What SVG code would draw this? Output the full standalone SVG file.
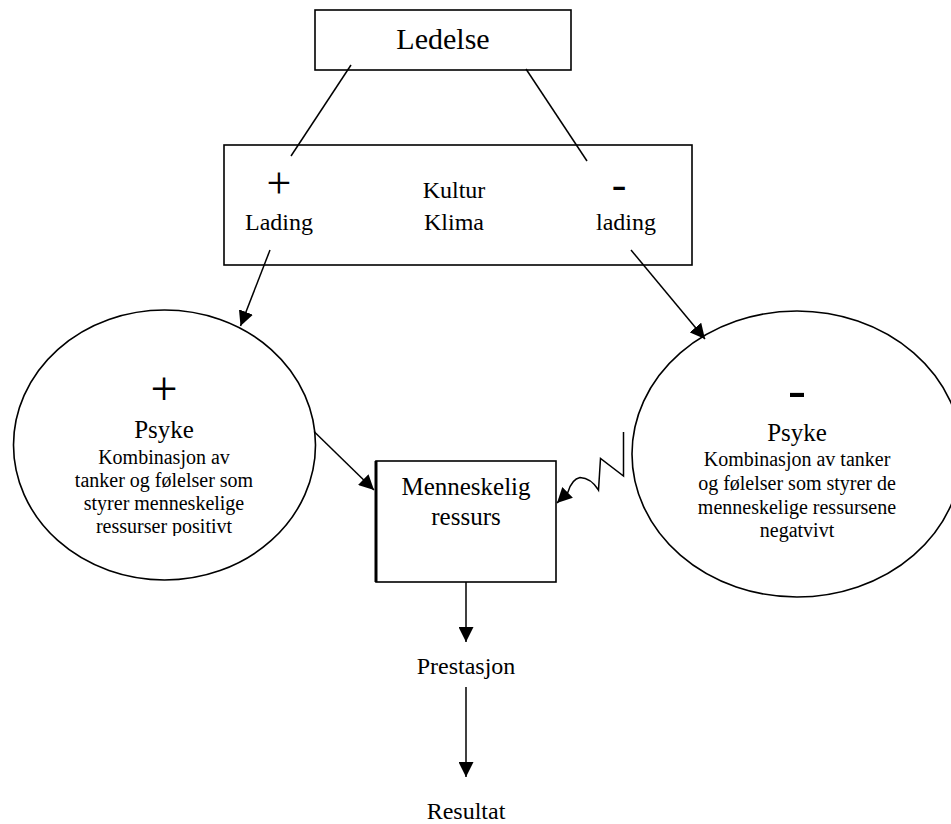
<svg xmlns="http://www.w3.org/2000/svg" width="951" height="824" viewBox="0 0 951 824">
  <style>
    text { font-family: "Liberation Serif", "Times New Roman", serif; fill: #000; text-anchor: middle; }
    .box { fill: #fff; stroke: #000; stroke-width: 1.6; }
    .oval { fill: #fff; stroke: #000; stroke-width: 1.6; }
    .link { fill: none; stroke: #000; stroke-width: 1.5; }
    .arrow { fill: none; stroke: #000; stroke-width: 1.5; marker-end: url(#head); }
    .t30 { font-size: 30px; }
    .t25 { font-size: 25px; }
    .t24 { font-size: 24px; }
    .t20 { font-size: 20px; }
  </style>
  <defs>
    <marker id="head" markerUnits="userSpaceOnUse" viewBox="0 0 15 15" markerWidth="15" markerHeight="15" refX="15" refY="7.5" orient="auto">
      <path d="M0,0 L15,7.5 L0,15 Z" fill="#000"/>
    </marker>
    <clipPath id="clipPos">
      <rect x="0" y="300" width="400" height="236"/>
    </clipPath>
  </defs>

  <rect width="951" height="824" fill="#fff"/>

  <!-- Leadership -->
  <g id="ledelse">
    <rect class="box" x="315" y="10" width="256" height="60"/>
    <text class="t30" x="443" y="49">Ledelse</text>
  </g>

  <!-- Culture / climate with positive and negative charge -->
  <g id="kultur">
    <rect class="box" x="224" y="145" width="468" height="120"/>
    <text x="279" y="198" style="font-size:44px">+</text>
    <text class="t24" x="279" y="230">Lading</text>
    <text class="t24" x="454" y="198">Kultur</text>
    <text class="t24" x="454" y="230">Klima</text>
    <text x="619" y="199" style="font-size:44px">-</text>
    <text class="t24" x="626" y="230">lading</text>
  </g>

  <!-- Positive psyche -->
  <g id="psyke-pluss">
    <ellipse class="oval" cx="164.5" cy="445" rx="151" ry="135"/>
    <text x="164" y="405" style="font-size:48px">+</text>
    <text class="t25" x="164" y="438">Psyke</text>
    <text class="t20" x="164" y="464">Kombinasjon av</text>
    <text class="t20" x="164" y="487">tanker og følelser som</text>
    <text class="t20" x="164" y="510">styrer menneskelige</text>
    <text class="t20" x="164" y="533" clip-path="url(#clipPos)">ressurser positivt</text>
  </g>

  <!-- Negative psyche -->
  <g id="psyke-minus">
    <ellipse class="oval" cx="797" cy="454" rx="165" ry="143"/>
    <text x="797" y="408" style="font-size:54px">-</text>
    <text class="t25" x="797" y="441">Psyke</text>
    <text class="t20" x="797" y="466">Kombinasjon av tanker</text>
    <text class="t20" x="797" y="490">og følelser som styrer de</text>
    <text class="t20" x="797" y="514">menneskelige ressursene</text>
    <text class="t20" x="797" y="537">negatvivt</text>
  </g>

  <!-- Human resource -->
  <g id="ressurs">
    <rect class="box" x="376" y="461" width="180" height="121"/>
    <line x1="376" y1="461" x2="376" y2="582" stroke="#000" stroke-width="3"/>
    <text class="t25" x="466" y="495">Menneskelig</text>
    <text class="t25" x="466" y="525">ressurs</text>
  </g>

  <g id="prestasjon">
    <text class="t24" x="466" y="674">Prestasjon</text>
  </g>

  <g id="resultat">
    <text class="t24" x="466" y="819">Resultat</text>
  </g>

  <!-- Connectors -->
  <g id="connectors">
    <line class="link" x1="351" y1="65" x2="291" y2="156"/>
    <line class="link" x1="526" y1="69" x2="587" y2="161"/>
    <line class="arrow" x1="270" y1="250" x2="240.5" y2="326"/>
    <line class="arrow" x1="631" y1="250" x2="705" y2="339"/>
    <line class="arrow" x1="314" y1="431.5" x2="374" y2="490"/>
    <path class="arrow" d="M623.5,432 L623.5,476 L600.5,458.5 L598.5,490 Q591,478 580,477.5 Q572,479 568,492 L557,503"/>
    <line class="arrow" x1="466" y1="582" x2="466" y2="642"/>
    <line class="arrow" x1="466" y1="687" x2="466" y2="777"/>
  </g>
</svg>
